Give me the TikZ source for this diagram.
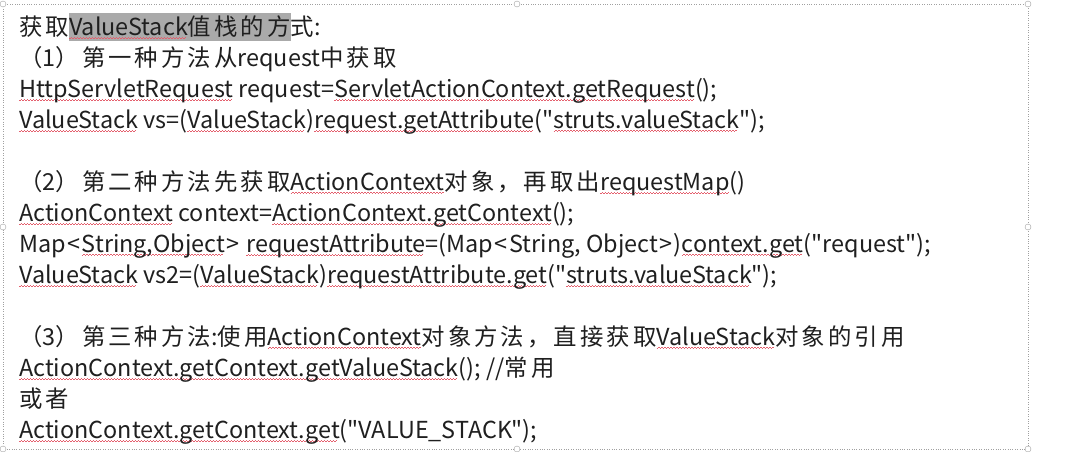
\documentclass[tikz,border=0pt]{standalone}
\usepackage{fontspec}
\newfontfamily\mainfnt{Noto Sans CJK SC}
\newfontfamily\widefnt{Noto Sans CJK SC}[LetterSpace=13]
\definecolor{spell}{RGB}{228,96,110}
\definecolor{hlgray}{RGB}{170,170,170}
\definecolor{framegray}{RGB}{160,160,160}
\newsavebox\sqbox
\newcommand\sq[1]{\sbox\sqbox{#1}\rlap{\color{spell}\raisebox{-3.5pt}{\hbox to \wd\sqbox{\leaders\hbox to 3pt{\rule{1.5pt}{0.6pt}\raisebox{0.7pt}{\rule{1.5pt}{0.6pt}}}\hfill}}}\usebox\sqbox}
\newcommand\hl[1]{{\setlength\fboxsep{0pt}\colorbox{hlgray}{\rule[-6pt]{0pt}{28pt}#1}}}
\newcommand\zh[1]{{\widefnt #1}}
\newcommand\ab[1]{\kern1.5pt#1\kern1.5pt\relax}
\tikzset{txtline/.style={anchor=base west, inner sep=0pt, text height=22pt, text depth=9pt,
  text=black!88, font=\mainfnt\fontsize{23.4}{31}\selectfont}}
\begin{document}
\begin{tikzpicture}[x=1pt,y=1pt,ampersand replacement=\&]
    \useasboundingbox (0,0) rectangle (1069,-452);
    \draw [framegray,dotted] (3,-4) rectangle (1028,-449);
    \foreach \p in {(3,-4),(517,-4),(1028,-4),(3,-227),(1028,-227),(3,-449),(517,-449),(1028,-449)}
      \draw [framegray,fill=white] \p circle (3);
    \matrix[anchor=north west,inner sep=0pt,row sep=0pt,nodes={txtline}] (txt) at (19,-13)
    {
    \node(l1){\zh{获取}\hl{\sq{ValueStack}\zh{值栈的方}}\zh{式}:}; \\
    \node(l2){\zh{（}1\zh{）第一种方法从}request\zh{中获取}}; \\
    \node(l3){\sq{HttpServletRequest} request=\sq{ServletActionContext.getRequest}();}; \\
    \node(l4){\sq{ValueStack} vs=(\sq{ValueStack})\sq{request.getAttribute}("\sq{struts.valueStack}");}; \\
    \node(b1){}; \\
    \node(l6){\zh{（}2\zh{）第二种方法先获取}\sq{ActionContext}\zh{对象，再取出}\sq{requestMap}()}; \\
    \node(l7){\sq{ActionContext} context=\sq{ActionContext.getContext}();}; \\
    \node(l8){Map\ab{<}\sq{String,Object}\ab{>} \sq{requestAttribute}=(Map\ab{<}String, Object\ab{>})\sq{context.get}("request");}; \\
    \node(l9){\sq{ValueStack} vs2=(\sq{ValueStack})\sq{requestAttribute.get}("\sq{struts.valueStack}");}; \\
    \node(b2){}; \\
    \node(l11){\zh{（}3\zh{）第三种方法}:\zh{使用}\sq{ActionContext}\zh{对象方法，直接获取}\sq{ValueStack}\zh{对象的引用}}; \\
    \node(l12){\sq{ActionContext.getContext.getValueStack}(); //\zh{常用}}; \\
    \node(l13){\zh{或者}}; \\
    \node(l14){\sq{ActionContext.getContext.get}("VALUE\_STACK");}; \\
    };
\end{tikzpicture}
\end{document}
